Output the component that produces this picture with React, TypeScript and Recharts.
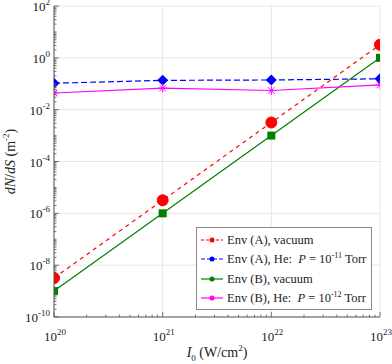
import { LineChart, Line, XAxis, YAxis, CartesianGrid } from 'recharts'

const intensity = [1e20, 1e21, 1e22, 1e23]
const envAVacuum = [3.2e-9, 3.2e-6, 3.2e-3, 3.2]
const envAHelium = [0.105, 0.135, 0.14, 0.155]
const envBVacuum = [1e-9, 1e-6, 1e-3, 1]
const envBHelium = [0.044, 0.068, 0.055, 0.09]

const xMajor = [1e20, 1e21, 1e22, 1e23]
const yMajor = [1e-10, 1e-8, 1e-6, 1e-4, 1e-2, 1, 1e2]

const data = intensity.map((x, i) => ({
  x,
  aVac: envAVacuum[i],
  aHe: envAHelium[i],
  bVac: envBVacuum[i],
  bHe: envBHelium[i],
}))

// major + minor decade ticks for the log axes
function logTicks(lo: number, hi: number) {
  const out: number[] = []
  for (let e = lo; e < hi; e++) {
    for (let m = 1; m < 10; m++) out.push(m * Math.pow(10, e))
  }
  out.push(Math.pow(10, hi))
  return out
}
const xTicks = logTicks(20, 23)
const yTicks = logTicks(-10, 2)

const FONT = '"Times New Roman", "Liberation Serif", serif'
const AXIS = '#555'

function inList(v: number, list: number[]) {
  return list.some((m) => Math.abs(v - m) < 1e-6 * m)
}

function makeXTick(dir: number, labels: boolean) {
  return (props: any) => {
    const { x, y, payload } = props
    const v = payload.value
    const major = inList(v, xMajor)
    const e = Math.round(Math.log10(v))
    return (
      <g>
        <line x1={x} x2={x} y1={y} y2={y + dir * (major ? 5 : 2.5)} stroke={AXIS} strokeWidth={0.8} />
        {labels && major && (
          <text x={x + 1} y={y + 24} textAnchor="middle" fontFamily={FONT} fontSize={13} fill="#222">
            10<tspan dy={-6} fontSize={9}>{e}</tspan>
          </text>
        )}
      </g>
    )
  }
}

function makeYTick(dir: number, labels: boolean) {
  return (props: any) => {
    const { x, y, payload } = props
    const v = payload.value
    const major = inList(v, yMajor)
    const e = Math.round(Math.log10(v))
    return (
      <g>
        <line x1={x} x2={x + dir * (major ? 5 : 2.5)} y1={y} y2={y} stroke={AXIS} strokeWidth={0.8} />
        {labels && major && (
          <text x={x - 4} y={y + 5} textAnchor="end" fontFamily={FONT} fontSize={13} fill="#222">
            10<tspan dy={-6} fontSize={9}>{e}</tspan>
          </text>
        )}
      </g>
    )
  }
}

function Circle(props: any) {
  const { cx, cy } = props
  return <circle cx={cx} cy={cy} r={5.5} fill="#ff0000" stroke="#ff0000" />
}
function Diamond(props: any) {
  const { cx, cy } = props
  const s = 5.5
  return <path d={`M${cx},${cy - s}L${cx + s},${cy}L${cx},${cy + s}L${cx - s},${cy}Z`} fill="#0000ff" />
}
function Square(props: any) {
  const { cx, cy } = props
  return <rect x={cx - 4} y={cy - 4} width={8} height={8} fill="#008000" />
}
function Star(props: any) {
  const { cx, cy } = props
  const s = 4.5
  const d = s * 0.72
  return (
    <g stroke="#ff00ff" strokeWidth={1}>
      <line x1={cx - s} x2={cx + s} y1={cy} y2={cy} />
      <line x1={cx} x2={cx} y1={cy - s} y2={cy + s} />
      <line x1={cx - d} x2={cx + d} y1={cy - d} y2={cy + d} />
      <line x1={cx - d} x2={cx + d} y1={cy + d} y2={cy - d} />
    </g>
  )
}

const legendItems = [
  { color: '#ff0000', dash: '3 2', label: <>Env (A), vacuum</> },
  { color: '#0000ff', dash: '4 2', label: <>Env (A), He:&nbsp; <i>P</i> = 10<sup style={{ fontSize: 8 }}>-11</sup> Torr</> },
  { color: '#008000', dash: undefined, label: <>Env (B), vacuum</> },
  { color: '#ff00ff', dash: undefined, label: <>Env (B), He:&nbsp; <i>P</i> = 10<sup style={{ fontSize: 8 }}>-12</sup> Torr</> },
]

function LegendBox() {
  return (
    <div style={{ position: 'absolute', left: 196, top: 227, width: 176, height: 83, boxSizing: 'border-box', border: '1px solid #888', background: '#fff', padding: '2px 3px', fontFamily: FONT, fontSize: 12.5, color: '#222' }}>
      {legendItems.map((it, i) => (
        <div key={i} style={{ display: 'flex', alignItems: 'center', height: 19.5, whiteSpace: 'nowrap' }}>
          <svg width={24} height={10} style={{ marginRight: 3, flex: 'none' }}>
            <line x1={1} x2={23} y1={5} y2={5} stroke={it.color} strokeWidth={1.2} strokeDasharray={it.dash} />
            <circle cx={12} cy={5} r={2.5} fill={it.color} />
          </svg>
          <span style={{ lineHeight: 1 }}>{it.label}</span>
        </div>
      ))}
    </div>
  )
}

function YLabel(props: any) {
  const { viewBox } = props
  const cx = 15
  const cy = viewBox.y + viewBox.height / 2
  return (
    <text x={cx} y={cy} transform={`rotate(-90 ${cx} ${cy})`} textAnchor="middle" fontFamily={FONT} fontSize={14} fill="#222">
      <tspan fontStyle="italic">dN</tspan>/<tspan fontStyle="italic">dS</tspan> (m<tspan dy={-6} fontSize={9}>-2</tspan><tspan dy={6}>)</tspan>
    </text>
  )
}

function XLabel(props: any) {
  const { viewBox } = props
  const cx = viewBox.x + viewBox.width / 2
  return (
    <text x={cx} y={357} textAnchor="middle" fontFamily={FONT} fontSize={14} fill="#222">
      <tspan fontStyle="italic">I</tspan><tspan dy={4} fontSize={9}>0</tspan><tspan dy={-4}> (W/cm</tspan><tspan dy={-6} fontSize={9}>2</tspan><tspan dy={6}>)</tspan>
    </text>
  )
}

export default function App() {
  return (
    <div style={{ position: 'fixed', left: 0, top: 0, width: 392, height: 364, background: '#fff' }}>
      <LineChart width={392} height={364} data={data} margin={{ top: 6, right: 12, left: 0, bottom: 0 }}>
        <CartesianGrid stroke="#e6e6e6" horizontalValues={yMajor} verticalValues={xMajor} />
        <XAxis
          dataKey="x"
          type="number"
          scale="log"
          domain={[1e20, 1e23]}
          ticks={xTicks}
          interval={0}
          height={47}
          tickSize={0}
          tickMargin={0}
          stroke={AXIS}
          tick={makeXTick(-1, true)}
          label={{ content: XLabel }}
          allowDataOverflow
        />
        <XAxis
          xAxisId="top"
          orientation="top"
          dataKey="x"
          type="number"
          scale="log"
          domain={[1e20, 1e23]}
          ticks={xTicks}
          interval={0}
          height={0}
          tickSize={0}
          tickMargin={0}
          stroke={AXIS}
          tick={makeXTick(1, false)}
          allowDataOverflow
        />
        <YAxis
          type="number"
          scale="log"
          domain={[1e-10, 1e2]}
          ticks={yTicks}
          interval={0}
          width={54}
          tickSize={0}
          tickMargin={0}
          stroke={AXIS}
          tick={makeYTick(1, true)}
          label={{ content: YLabel }}
          allowDataOverflow
        />
        <YAxis
          yAxisId="right"
          orientation="right"
          type="number"
          scale="log"
          domain={[1e-10, 1e2]}
          ticks={yTicks}
          interval={0}
          width={0}
          tickSize={0}
          tickMargin={0}
          stroke={AXIS}
          tick={makeYTick(-1, false)}
          allowDataOverflow
        />
        <Line dataKey="aVac" stroke="#ff0000" strokeWidth={1.2} strokeDasharray="4 4" dot={<Circle />} activeDot={false} isAnimationActive={false} />
        <Line dataKey="aHe" stroke="#0000ff" strokeWidth={1.2} strokeDasharray="6 3" dot={<Diamond />} activeDot={false} isAnimationActive={false} />
        <Line dataKey="bVac" stroke="#008000" strokeWidth={1.2} dot={<Square />} activeDot={false} isAnimationActive={false} />
        <Line dataKey="bHe" stroke="#ff00ff" strokeWidth={1.2} dot={<Star />} activeDot={false} isAnimationActive={false} />
      </LineChart>
      <LegendBox />
    </div>
  )
}
